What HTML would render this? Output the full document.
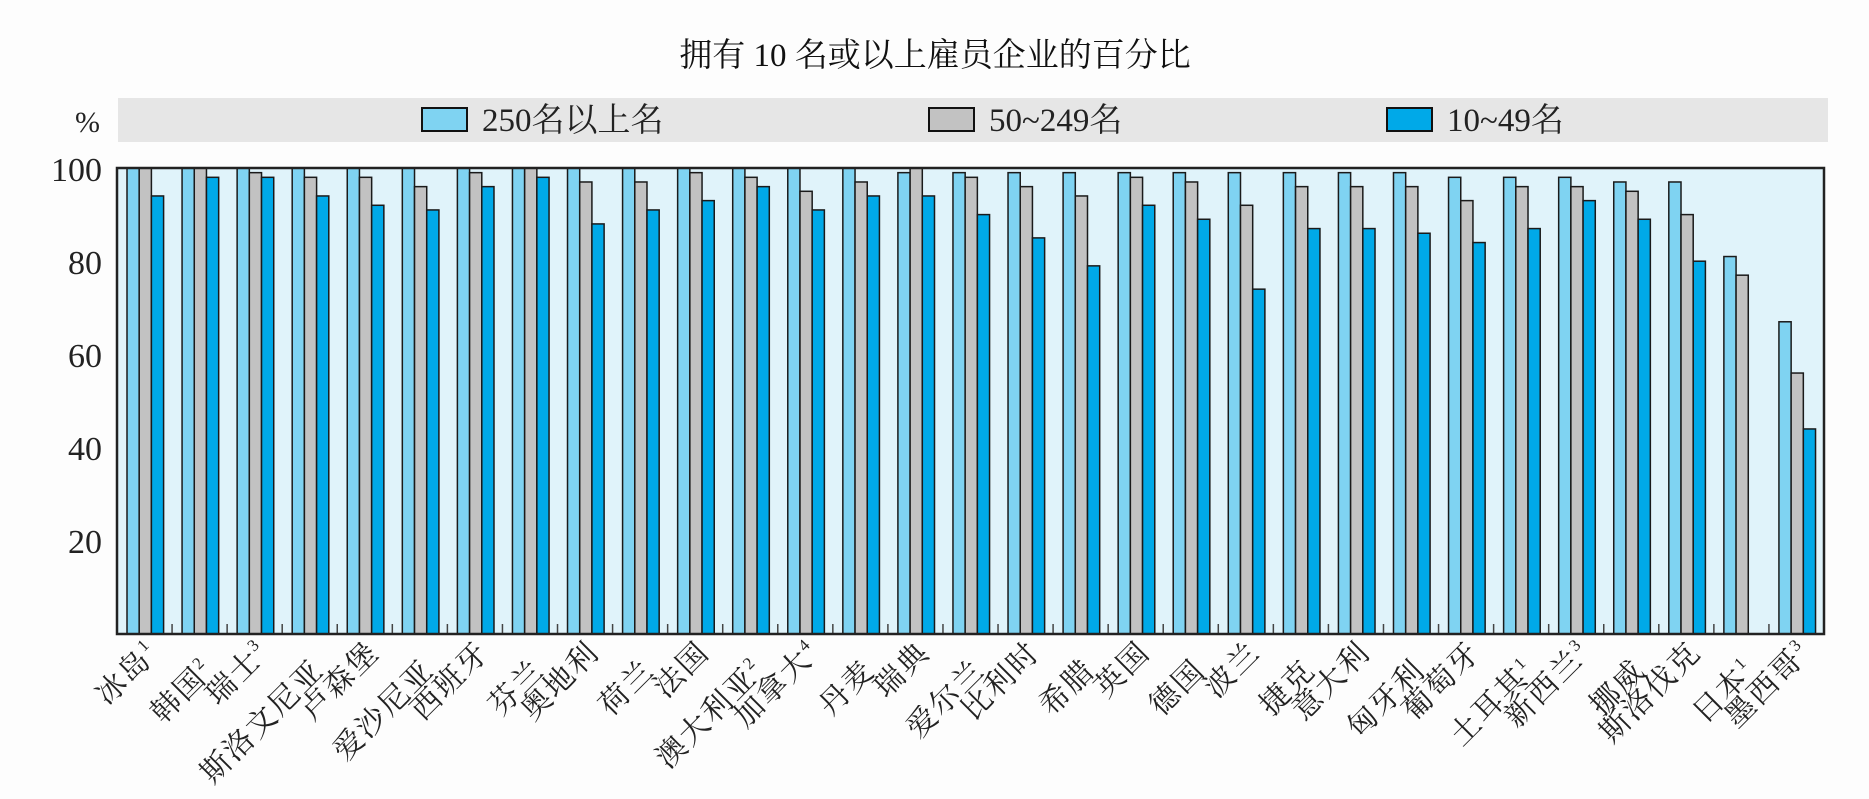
<!DOCTYPE html>
<html><head><meta charset="utf-8"><style>
html,body{margin:0;padding:0;background:#fff;}
svg{display:block;font-family:"Liberation Serif","Noto Serif CJK SC",serif;}
</style></head><body>
<svg id="c" xmlns="http://www.w3.org/2000/svg" width="1869" height="799" viewBox="0 0 1869 799">
<rect width="1869" height="799" fill="#fdfdfd"/>
<text x="935" y="66" font-size="33" text-anchor="middle" fill="#111">拥有 10 名或以上雇员企业的百分比</text>
<rect x="118" y="98" width="1710" height="44" fill="#e6e6e6"/>
<rect x="422" y="108" width="45" height="23" fill="#7fd3f2" stroke="#111" stroke-width="2"/>
<text x="482" y="131" font-size="33" fill="#222">250名以上名</text>
<rect x="929" y="108" width="45" height="23" fill="#c2c2c2" stroke="#111" stroke-width="2"/>
<text x="989" y="131" font-size="33" fill="#222">50~249名</text>
<rect x="1387" y="108" width="45" height="23" fill="#00a9e8" stroke="#111" stroke-width="2"/>
<text x="1447" y="131" font-size="33" fill="#222">10~49名</text>
<text x="100" y="132" font-size="30" text-anchor="end" fill="#222">%</text>
<rect x="117" y="168" width="1707" height="466" fill="#e0f3fa"/>
<g id="bars"></g>
<rect x="117" y="168" width="1707" height="466" fill="none" stroke="#222" stroke-width="2.5"/>
<g font-size="34" fill="#222" text-anchor="end">
<text x="102" y="181">100</text>
<text x="102" y="274">80</text>
<text x="102" y="367">60</text>
<text x="102" y="460">40</text>
<text x="102" y="553">20</text>
</g>
<g id="labels" font-size="30" fill="#222" text-anchor="end" letter-spacing="2"></g>
</svg>
<script>
var d=[["冰岛","1",100,100,94],["韩国","2",100,100,98],["瑞士","3",100,99,98],["斯洛文尼亚","",100,98,94],["卢森堡","",100,98,92],["爱沙尼亚","",100,96,91],["西班牙","",100,99,96],["芬兰","",100,100,98],["奥地利","",100,97,88],["荷兰","",100,97,91],["法国","",100,99,93],["澳大利亚","2",100,98,96],["加拿大","4",100,95,91],["丹麦","",100,97,94],["瑞典","",99,100,94],["爱尔兰","",99,98,90],["比利时","",99,96,85],["希腊","",99,94,79],["英国","",99,98,92],["德国","",99,97,89],["波兰","",99,92,74],["捷克","",99,96,87],["意大利","",99,96,87],["匈牙利","",99,96,86],["葡萄牙","",98,93,84],["土耳其","1",98,96,87],["新西兰","3",98,96,93],["挪威","",97,95,89],["斯洛伐克","",97,90,80],["日本","1",81,77,null],["墨西哥","3",67,56,44]];
var ns="http://www.w3.org/2000/svg",g=document.getElementById("bars"),L=document.getElementById("labels");
var cols=["#7fd3f2","#c2c2c2","#00a9e8"],x0=117,gw=1707/31,y0=634,k=4.66;
function el(t,a,p){var e=document.createElementNS(ns,t);for(var i in a)e.setAttribute(i,a[i]);p.appendChild(e);return e;}
for(var i=0;i<31;i++){var gx=x0+i*gw;
 if(i>0)el("line",{x1:gx,y1:634,x2:gx,y2:624,stroke:"#444","stroke-width":1.5},g);
 for(var j=0;j<3;j++){var v=d[i][2+j];if(v==null)continue;var h=v*k;
  el("rect",{x:gx+10+j*12.2,y:y0-h,width:12.2,height:h,fill:cols[j],stroke:"#1a1a1a","stroke-width":1.5},g);}
 var cx=gx+gw/2+16,cy=654+(i%2)*18;
 var t=el("text",{transform:"translate("+cx+","+cy+") rotate(-45)"},L);t.textContent=d[i][0];
 if(d[i][1]){var s=el("tspan",{"font-size":"17",dy:"-13"},t);s.textContent=d[i][1];}
}
</script>
</body></html>
